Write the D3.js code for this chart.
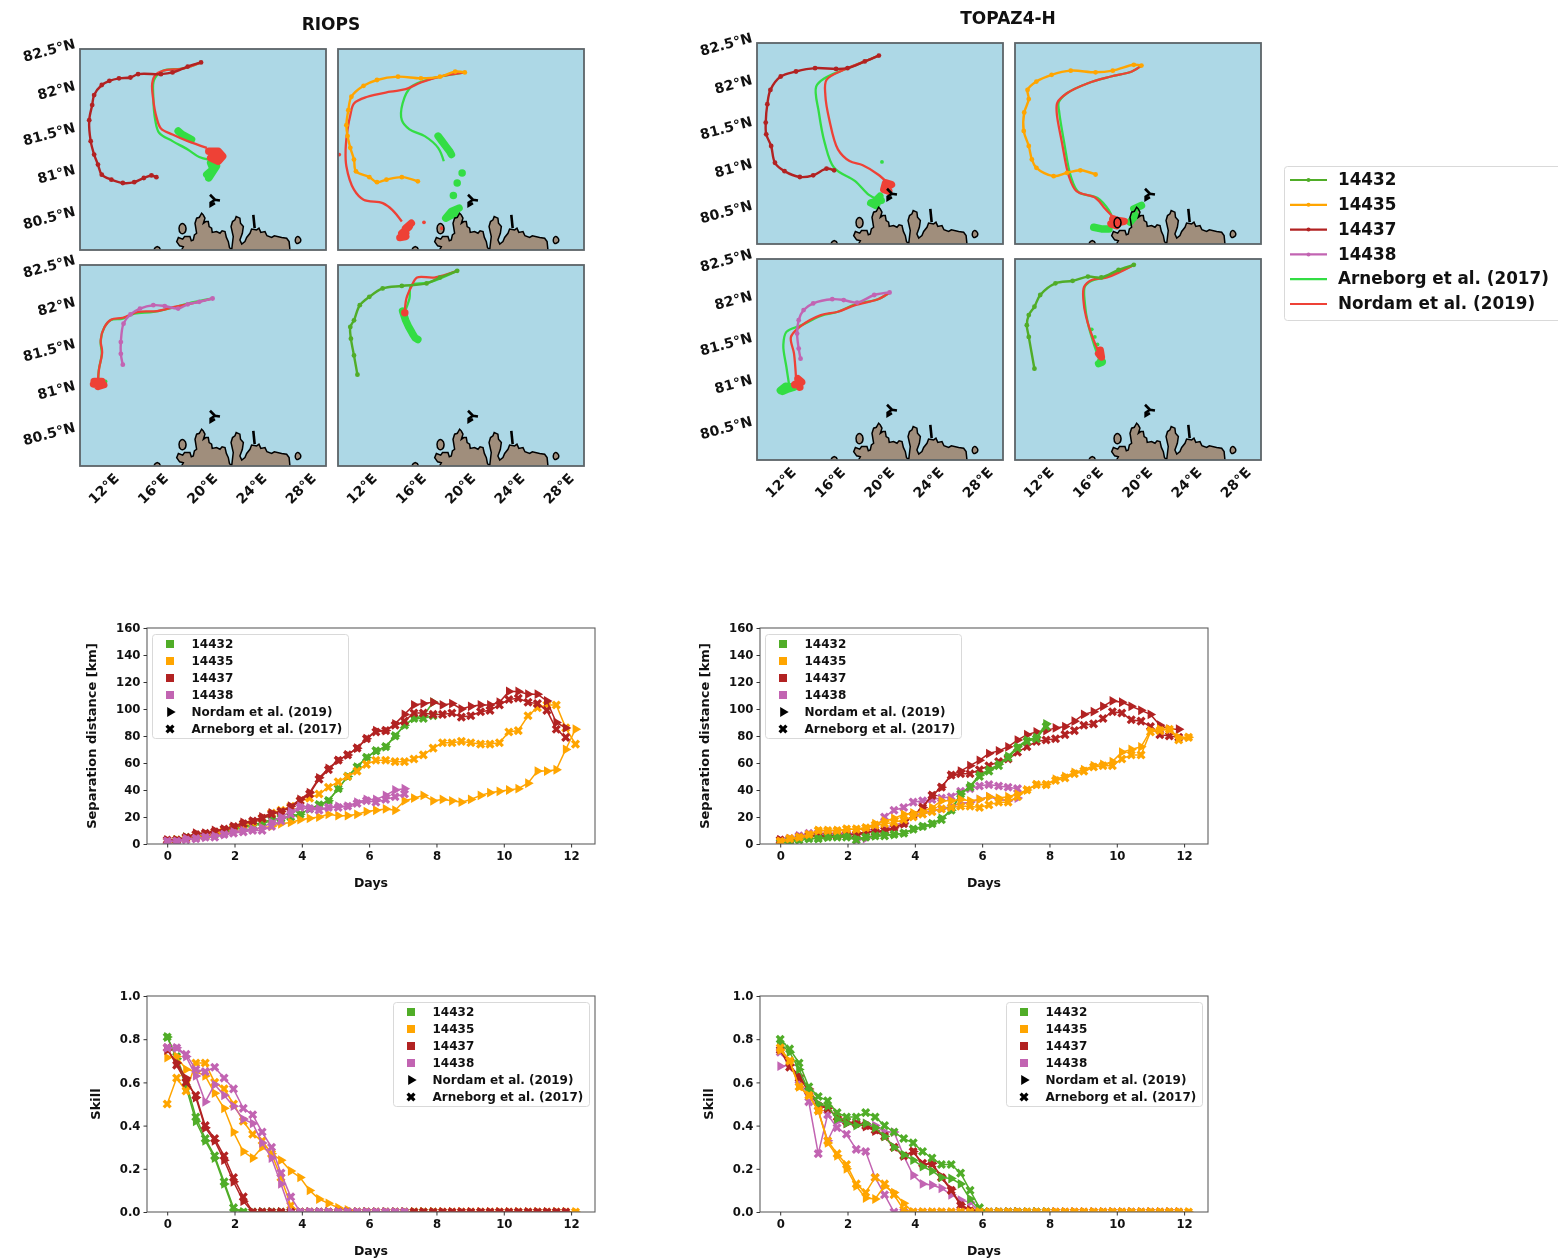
<!doctype html>
<html lang="en">
<head>
<meta charset="utf-8" />
<title>Drifter separation, RIOPS and TOPAZ4-H</title>
<script src="https://cdn.jsdelivr.net/npm/d3@7"></script>
<style>
  html, body { margin: 0; background: #fff; }
  svg { display: block; filter: blur(0.7px); }
  text { font-family: "DejaVu Sans", sans-serif; font-weight: bold; fill: #111; }
</style>
</head>
<body>
<svg id="chart" width="1558" height="1260"></svg>
<script>
const drifters = ["14432", "14435", "14437", "14438"];
const nordamLabel = "Nordam et al. (2019)";
const arneborgLabel = "Arneborg et al. (2017)";
const lonTicks = [12, 16, 20, 24, 28];
const latTicks = [82.5, 82, 81.5, 81, 80.5];

const days = [0,.28,.56,.85,1.13,1.41,1.69,1.97,2.26,2.54,2.82,3.1,3.38,3.67,3.95,4.23,4.51,4.79,5.08,5.36,5.64,5.92,6.2,6.49,6.77,7.05,7.33,7.61,7.9,8.18,8.46,8.74,9.02,9.31,9.59,9.87,10.15,10.43,10.72,11,11.28,11.56,11.84,12.13];

// separation distance [km]
const riopsSep14432N = [2,3,5,6,6,7,9,11,13,14,16,18,19,21,22,26,29,32,41,50,57,64,69,72,80,88,93,95,105];
const riopsSep14432A = [2,3,5,5,6,7,9,11,13,14,16,18,19,20,22,26,29,32,41,50,57,64,69,72,80,88,93,93,95];
const riopsSep14435N = [2,3,4,5,6,7,8,9,10,11,12,13,15,16,18,19,20,22,21,21,22,24,25,26,25,32,34,36,32,33,32,31,33,36,38,39,40,41,45,54,54,55,70,85];
const riopsSep14435A = [2,3,4,5,6,8,10,12,14,16,19,23,25,28,32,34,37,42,46,50,54,59,62,62,61,61,63,66,71,75,75,76,75,74,74,75,83,84,95,101,103,103,86,74];
const riopsSep14437N = [3,3,5,8,8,10,11,13,16,17,20,23,24,28,33,38,49,56,62,66,71,78,84,84,89,96,103,104,105,103,104,100,102,103,103,105,113,113,111,111,106,90,86];
const riopsSep14437A = [3,3,5,7,8,9,11,13,15,17,19,22,24,27,32,37,48,55,62,66,71,78,83,84,88,91,97,97,96,96,97,94,95,98,99,103,107,108,105,104,99,85,79];
const riopsSep14438N = [2,2,4,4,5,6,7,9,10,11,12,16,20,24,28,27,26,27,28,28,31,33,33,36,40,41];
const riopsSep14438A = [2,2,3,4,5,5,7,8,9,10,10,13,17,22,27,26,25,27,27,28,30,32,31,33,35,37];

const topazSep14432N = [1,2,3,4,4,5,6,6,4,5,6,7,7,8,11,13,15,19,25,37,43,51,55,59,65,72,77,79,89];
const topazSep14432A = [1,2,3,4,4,5,5,5,3,5,6,6,7,8,11,13,15,18,25,37,42,50,54,58,64,71,76,78,87];
const topazSep14435N = [2,4,5,7,10,10,10,11,11,12,15,17,19,22,23,24,27,32,32,33,32,33,35,34,35,37,40,44,44,48,50,53,55,58,59,61,68,70,72,84,85,85,79,79];
const topazSep14435A = [2,4,5,7,10,10,10,11,11,12,14,15,16,18,20,22,24,26,27,28,28,27,29,31,31,35,40,44,44,47,49,52,54,57,58,58,63,66,66,83,84,85,77,79];
const topazSep14437N = [3,3,5,6,6,6,6,7,7,9,9,10,12,15,21,27,36,42,51,54,58,62,67,69,72,77,81,83,84,86,87,91,96,98,102,106,105,102,99,96,88,85,85];
const topazSep14437A = [3,3,5,6,6,6,6,7,7,9,9,10,12,15,21,27,36,42,51,52,52,55,58,61,63,68,72,76,77,78,81,84,88,89,93,98,97,92,91,87,81,80,79];
const topazSep14438N = [3,4,6,7,7,7,6,6,3,4,7,11,14,16,21,23,25,26,28,30,31,33,35,33,32,34];
const topazSep14438A = [3,4,6,8,8,8,8,8,7,9,12,20,25,27,31,32,33,34,35,39,41,43,44,43,42,41];

// skill
const riopsSkill14432N = [.81,.71,.58,.42,.33,.25,.13,.01,0,0,0,0,0,0,0,0,0,0,0,0,0,0,0,0,0,0,0,0,0];
const riopsSkill14432A = [.81,.72,.6,.44,.34,.26,.14,.02,0,0,0,0,0,0,0,0,0,0,0,0,0,0,0,0,0,0,0,0,0];
const riopsSkill14435N = [.715,.72,.66,.65,.63,.55,.48,.37,.28,.25,.3,.27,.24,.19,.16,.1,.06,.04,.02,.01,0,0,0,0,0,0,0,0,0,0,0,0,0,0,0,0,0,0,0,0,0,0,0,0];
const riopsSkill14435A = [.5,.62,.56,.69,.69,.6,.57,.5,.42,.36,.33,.27,.16,.03,0,0,0,0,0,0,0,0,0,0,0,0,0,0,0,0,0,0,0,0,0,0,0,0,0,0,0,0,0,0];
const riopsSkill14437N = [.75,.69,.62,.53,.39,.33,.24,.14,.05,0,0,0,0,0,0,0,0,0,0,0,0,0,0,0,0,0,0,0,0,0,0,0,0,0,0,0,0,0,0,0,0,0,0];
const riopsSkill14437A = [.76,.68,.6,.54,.4,.34,.26,.16,.07,0,0,0,0,0,0,0,0,0,0,0,0,0,0,0,0,0,0,0,0,0,0,0,0,0,0,0,0,0,0,0,0,0,0];
const riopsSkill14438N = [.76,.76,.72,.63,.51,.59,.54,.49,.43,.41,.32,.25,.13,0,0,0,0,0,0,0,0,0,0,0,0,0];
const riopsSkill14438A = [.76,.76,.73,.66,.65,.67,.62,.57,.48,.45,.37,.3,.18,.07,0,0,0,0,0,0,0,0,0,0,0,0];

const topazSkill14432N = [.78,.74,.66,.56,.5,.49,.43,.41,.4,.41,.39,.35,.3,.265,.24,.21,.19,.16,.155,.13,.06,.01,0,0,0,0,0,0,0];
const topazSkill14432A = [.8,.755,.69,.58,.535,.515,.46,.44,.44,.46,.44,.4,.37,.34,.32,.28,.25,.22,.22,.18,.1,.02,0,0,0,0,0,0,0];
const topazSkill14435N = [.75,.7,.58,.54,.47,.32,.26,.2,.12,.065,.06,.12,.09,.04,0,0,0,0,0,0,0,0,0,0,0,0,0,0,0,0,0,0,0,0,0,0,0,0,0,0,0,0,0,0];
const topazSkill14435A = [.76,.7,.58,.54,.47,.33,.27,.22,.13,.09,.16,.13,.08,.01,0,0,0,0,0,0,0,0,0,0,0,0,0,0,0,0,0,0,0,0,0,0,0,0,0,0,0,0,0,0];
const topazSkill14437N = [.76,.68,.63,.57,.5,.48,.44,.41,.41,.395,.375,.35,.3,.26,.28,.22,.225,.165,.105,.035,.01,0,0,0,0,0,0,0,0,0,0,0,0,0,0,0,0,0,0,0,0,0,0];
const topazSkill14437A = [.75,.67,.62,.56,.49,.48,.44,.42,.41,.4,.38,.35,.3,.26,.28,.225,.22,.16,.1,.03,.005,0,0,0,0,0,0,0,0,0,0,0,0,0,0,0,0,0,0,0,0,0,0];
const topazSkill14438N = [.675,.68,.6,.55,.47,.33,.42,.41,.41,.41,.4,.37,.37,.26,.17,.13,.125,.11,.08,.055,.045,0,0,0,0,0];
const topazSkill14438A = [.74,.69,.61,.51,.27,.45,.39,.36,.29,.28,.16,.08,0,0,0,0,0,0,0,0,0,0,0,0,0,0];

// map tracks, [lon, lat]. *End = clusters of final positions, *Stray = single particles
const riops14437Drifter = [[19.84,82.34],[18.76,82.29],[17.52,82.22],[16.58,82.2],[14.72,82.2],[14.1,82.16],[13.17,82.15],[12.39,82.12],[11.77,82.07],[11.15,81.95],[10.99,81.83],[10.75,81.65],[10.87,81.4],[11.15,81.24],[11.46,81.12],[11.77,81],[12.55,80.94],[13.48,80.9],[14.41,80.91],[15.19,80.96],[15.81,80.99],[16.21,80.97]];
const riops14437Nordam = [[19.84,82.34],[18.45,82.27],[16.74,82.24],[16.12,82.19],[15.87,82.09],[15.96,81.89],[16.21,81.69],[16.58,81.55],[17.52,81.48],[18.76,81.4],[20.31,81.32]];
const riops14437Arneborg = [[19.84,82.34],[18.45,82.27],[16.74,82.24],[16.02,82.13],[15.96,81.93],[16.12,81.65],[16.43,81.5],[17.52,81.4],[18.76,81.3],[19.69,81.21],[20.47,81.18]];
const riops14437NordamEnd = [[[20.47,81.28],[21.24,81.28],[21.6,81.22],[21.24,81.16],[20.62,81.2],[20.93,81.22]]];
const riops14437ArneborgEnd = [[[20.62,81.14],[20.78,81.08],[20.62,81.02],[20.47,80.96],[21.09,81.1],[20.31,81]],[[17.98,81.52],[18.29,81.48],[19.07,81.42]]];
const riops14437NordamStray = [];
const riops14437ArneborgStray = [];

const riops14435Drifter = [[20.31,82.22],[19.53,82.23],[18.29,82.17],[16.74,82.15],[14.88,82.17],[13.17,82.13],[12.08,82.06],[11.09,81.93],[10.84,81.77],[10.68,81.59],[10.78,81.46],[11,81.32],[11.3,81.18],[11.46,81.04],[12.55,80.97],[13.17,80.91],[13.94,80.94],[15.19,80.97],[16.49,80.92]];
const riops14435Nordam = [[20.31,82.22],[18.29,82.17],[16.74,82.1],[15.5,82.02],[14.25,81.99],[12.39,81.93],[11.3,81.85],[11,81.71],[10.78,81.54],[10.62,81.3],[10.68,81.1],[11.3,80.82],[12.08,80.7],[13.63,80.66],[14.41,80.58],[15.19,80.44]];
const riops14435Arneborg = [[20.31,82.22],[18.29,82.17],[17.67,82.15],[15.96,82.05],[15.25,81.85],[15.19,81.65],[15.81,81.54],[17.05,81.46],[18.14,81.32],[18.6,81.16]];
const riops14435NordamEnd = [[[15.96,80.42],[15.5,80.36],[15.81,80.38],[15.19,80.3],[15.5,80.26],[15.03,80.25],[15.5,80.3]]];
const riops14435ArneborgEnd = [[[18.14,81.46],[18.45,81.4],[18.76,81.34],[19.07,81.28],[19.22,81.24]],[[20.09,81.02]],[[19.69,80.9]],[[19.38,80.75]],[[19.84,80.6],[19.22,80.56],[18.76,80.48],[19.53,80.54]]];
const riops14435NordamStray = [[16.99,80.43],[18.45,80.36],[10.1,81.24]];
const riops14435ArneborgStray = [];

const riops14438Drifter = [[20.78,82.1],[19.69,82.06],[18.76,82.03],[17.98,81.98],[16.89,82.01],[15.96,82.02],[14.88,81.98],[14.1,81.91],[13.54,81.8],[13.32,81.58],[13.32,81.44],[13.48,81.31]];
const riops14438Nordam = [[20.78,82.1],[18.76,82.03],[17.67,82],[16.27,81.95],[14.72,81.94],[13.48,81.87],[12.55,81.85],[11.99,81.76],[11.68,81.6],[11.8,81.46],[11.55,81.26],[11.46,81.13]];
const riops14438Arneborg = [[20.78,82.1],[18.76,82.04],[17.52,81.99],[15.96,81.94],[14.41,81.92],[13.48,81.86],[12.48,81.84],[11.93,81.74],[11.68,81.58],[11.77,81.44],[11.52,81.24],[11.49,81.11]];
const riops14438NordamEnd = [[[11.15,81.11],[11.77,81.11],[11.46,81.05],[11.93,81.07],[11.1,81.08],[11.5,81.1]]];
const riops14438ArneborgEnd = [];
const riops14438NordamStray = [];
const riops14438ArneborgStray = [[12.08,81.11]];

const riops14432Drifter = [[19.69,82.43],[18.29,82.35],[17.2,82.28],[15.19,82.25],[13.63,82.22],[12.55,82.12],[11.77,82.02],[11.3,81.84],[11,81.76],[11.05,81.62],[11.3,81.42],[11.58,81.19]];
const riops14432Nordam = [[19.69,82.43],[17.83,82.35],[16.43,82.35],[15.96,82.24],[15.56,82.1],[15.43,81.93]];
const riops14432Arneborg = [[19.69,82.43],[17.36,82.29],[15.96,82.26],[15.81,82.1],[15.43,81.94]];
const riops14432NordamEnd = [[[15.43,81.93]]];
const riops14432ArneborgEnd = [[[15.25,81.95],[15.5,81.84],[15.75,81.76],[16.06,81.68],[16.27,81.63],[16.49,81.61]]];
const riops14432NordamStray = [];
const riops14432ArneborgStray = [];

const topaz14437Drifter = [[19.91,82.35],[18.76,82.28],[17.36,82.2],[16.43,82.19],[14.72,82.2],[13.17,82.16],[11.93,82.1],[11.09,81.94],[10.84,81.77],[10.71,81.55],[10.75,81.41],[11.15,81.27],[11.46,81.07],[12.24,80.97],[13.48,80.9],[14.57,80.92],[15.65,81],[16.27,80.98]];
const topaz14437Nordam = [[19.91,82.35],[18.76,82.28],[17.05,82.18],[15.65,82.06],[15.56,81.87],[15.87,81.59],[16.58,81.23],[17.52,81.09],[18.6,81.04],[19.84,80.93],[20.62,80.83]];
const topaz14437Arneborg = [[19.91,82.35],[18.76,82.28],[17.05,82.18],[15.5,82.08],[14.81,81.98],[15.03,81.67],[15.5,81.31],[16.27,81.01],[17.98,80.85],[19.07,80.69],[19.84,80.63]];
const topaz14437NordamEnd = [[[20.62,80.79],[20.93,80.81],[20.46,80.83],[20.31,80.75],[20.71,80.73]]];
const topaz14437ArneborgEnd = [[[19.84,80.62],[19.53,80.6],[20,80.67],[19.69,80.56],[19.25,80.59],[20.1,80.62]]];
const topaz14437NordamStray = [];
const topaz14437ArneborgStray = [[20.16,81.08]];

const topaz14435Drifter = [[20.28,82.23],[19.66,82.24],[17.95,82.17],[16.55,82.15],[14.53,82.17],[12.98,82.12],[11.74,82.04],[11.02,81.94],[11.12,81.83],[10.75,81.67],[10.71,81.45],[11.12,81.27],[11.37,81.11],[11.74,81.01],[13.14,80.91],[14.22,80.95],[15.31,80.98],[16.55,80.93]];
const topaz14435Nordam = [[20.28,82.23],[19.5,82.16],[17.8,82.1],[15.93,82.02],[14.22,81.9],[13.45,81.79],[13.39,81.67],[13.82,81.31],[14.38,80.91],[15,80.73],[16.55,80.65],[17.33,80.52],[18.11,80.4]];
const topaz14435Arneborg = [[20.28,82.23],[19.5,82.16],[17.8,82.1],[15.93,82.02],[14.22,81.9],[13.55,81.79],[13.6,81.67],[14,81.31],[14.53,80.91],[15.16,80.72],[16.71,80.65],[17.64,80.5],[17.95,80.4]];
const topaz14435NordamEnd = [[[17.95,80.4],[18.35,80.38],[18.88,80.37],[17.8,80.34],[18.26,80.32]]];
const topaz14435ArneborgEnd = [[[16.4,80.3],[17.02,80.28],[17.64,80.28]],[[19.66,80.52],[20.28,80.56]],[[19.35,80.36],[19.8,80.44]]];
const topaz14435NordamStray = [];
const topaz14435ArneborgStray = [];

const topaz14438Drifter = [[20.78,82.1],[19.53,82.07],[18.14,81.98],[17.05,82.01],[16.12,82.02],[14.57,81.97],[13.79,81.89],[13.39,81.77],[13.26,81.61],[13.39,81.43],[13.54,81.31]];
const topaz14438Nordam = [[20.78,82.1],[19.84,82.02],[17.98,81.95],[16.58,81.87],[15.19,81.83],[13.48,81.69],[12.76,81.57],[13.01,81.37],[13.17,81.09]];
const topaz14438Arneborg = [[20.78,82.1],[19.84,82.02],[17.98,81.96],[16.58,81.87],[15.19,81.82],[13.63,81.71],[12.39,81.63],[12.14,81.47],[12.39,81.21],[12.64,80.97]];
const topaz14438NordamEnd = [[[13.39,81.01],[13.07,81],[13.63,81.03],[13.32,81.07],[13.48,80.97]]];
const topaz14438ArneborgEnd = [[[12.08,80.92],[12.55,80.95],[13.01,80.97],[12.33,80.98],[11.9,80.93]]];
const topaz14438NordamStray = [];
const topaz14438ArneborgStray = [];

const topaz14432Drifter = [[19.66,82.43],[18.42,82.37],[17.02,82.28],[15.93,82.29],[14.69,82.24],[13.29,82.21],[12.05,82.07],[11.58,81.93],[11.12,81.83],[10.96,81.71],[11.12,81.57],[11.58,81.19]];
const topaz14432Nordam = [[19.66,82.43],[17.48,82.28],[16.24,82.25],[15.62,82.17],[15.56,82.01],[15.78,81.81],[16.4,81.53],[16.93,81.35]];
const topaz14432Arneborg = [[19.66,82.43],[17.48,82.29],[16.24,82.24],[15.68,82.17],[15.68,81.97],[15.93,81.73],[16.49,81.45],[16.93,81.27]];
const topaz14432NordamEnd = [[[16.93,81.41],[17.02,81.33],[16.8,81.37]]];
const topaz14432ArneborgEnd = [[[16.93,81.27],[17.1,81.27],[16.8,81.25]]];
const topaz14432NordamStray = [];
const topaz14432ArneborgStray = [[16.24,81.66],[16.49,81.57],[16.71,81.48]];

// coastline, [lon, lat]
const mainLand = [[18.26,80.1],[18.4,80.14],[18.1,80.15],[17.86,80.2],[18,80.25],[18.35,80.23],[18.5,80.26],[18.94,80.26],[19.05,80.21],[19.21,80.22],[19.3,80.28],[19.48,80.3],[19.35,80.42],[19.48,80.48],[19.7,80.49],[19.89,80.54],[20.02,80.52],[20.16,80.48],[20.03,80.42],[20.22,80.44],[20.43,80.44],[20.5,80.38],[20.7,80.36],[20.75,80.31],[21.1,80.32],[21.38,80.3],[21.55,80.33],[21.79,80.32],[21.9,80.25],[22.06,80.2],[22.15,80.13],[22.33,80.1],[22.46,80.26],[22.28,80.38],[22.4,80.44],[22.6,80.46],[22.7,80.5],[23,80.48],[23.05,80.42],[23.28,80.38],[23.2,80.3],[23,80.22],[23.15,80.17],[23.41,80.2],[23.55,80.25],[23.82,80.3],[23.95,80.35],[24.36,80.34],[24.55,80.36],[24.7,80.31],[25.04,80.32],[25.2,80.27],[25.58,80.25],[25.8,80.27],[26.4,80.25],[26.8,80.24],[27,80.2],[27.07,80.1]];
const westIsle = [[18.05,80.36],[18.2,80.41],[18.45,80.41],[18.62,80.36],[18.45,80.3],[18.2,80.3]];
const eastIsle = [[27.5,80.22],[27.65,80.26],[27.85,80.25],[27.95,80.21],[27.75,80.18],[27.6,80.18]];
const southIsle = [[16,80.1],[16.12,80.13],[16.28,80.14],[16.45,80.13],[16.55,80.1]];
const northIslet = [[20.57,80.76],[20.97,80.7],[21.38,80.69],[20.97,80.7],[20.62,80.665],[20.62,80.63],[20.97,80.66]];
const narrowIslet = [[24.09,80.52],[24.2,80.36]];

const colors = {"14432": "#50ad28", "14435": "#ffa500", "14437": "#b22222", "14438": "#c264b2"};
const arneborgColor = "#33dd44", nordamColor = "#ee4136";

const svg = d3.select("#chart");

// map panels ------------------------------------------------------------
const mapW = 246, mapH = 201;
const lon = d3.scaleLinear().domain([10, 30]).range([0, mapW]);
const lat = d3.scaleLinear().domain([82.5, 80.1]).range([0, mapH]);
const mapLine = d3.line().x(d => lon(d[0])).y(d => lat(d[1]));
const trackLine = d3.line().x(d => lon(d[0])).y(d => lat(d[1])).curve(d3.curveCatmullRom);
const isleLine = d3.line().x(d => lon(d[0])).y(d => lat(d[1])).curve(d3.curveCatmullRomClosed);

let clipCount = 0;

function drawEnds(parent, clusters, strays, color) {
  parent.append("g").selectAll("path").data(clusters).join("path")
      .attr("d", d => mapLine(d.length === 1 ? [d[0], d[0]] : d))
      .attr("fill", "none").attr("stroke", color).attr("stroke-width", 7.5)
      .attr("stroke-linecap", "round").attr("stroke-linejoin", "round");
  parent.append("g").selectAll("circle").data(strays).join("circle")
      .attr("cx", d => lon(d[0])).attr("cy", d => lat(d[1])).attr("r", 1.9).attr("fill", color);
}

function drawMap(x0, y0, id, drifter, arneborg, nordam, arneborgEnd, nordamEnd, arneborgStray, nordamStray) {
  const g = svg.append("g").attr("transform", `translate(${x0},${y0})`);
  const clipId = "clip" + (++clipCount);
  g.append("clipPath").attr("id", clipId).append("rect").attr("width", mapW).attr("height", mapH);
  g.append("rect").attr("width", mapW).attr("height", mapH).attr("fill", "#add8e6");
  const inner = g.append("g").attr("clip-path", `url(#${clipId})`);

  // land fill below the tracks
  inner.append("path").attr("d", mapLine(mainLand) + "Z").attr("fill", "#a08e7c");
  inner.append("path").attr("d", mapLine(southIsle) + "Z").attr("fill", "#a08e7c");
  inner.selectAll("path.isle").data([westIsle, eastIsle]).join("path")
      .attr("class", "isle").attr("d", isleLine).attr("fill", "#a08e7c");

  inner.append("path").attr("d", trackLine(arneborg)).attr("fill", "none").attr("stroke", arneborgColor).attr("stroke-width", 2.3);
  drawEnds(inner, arneborgEnd, arneborgStray, arneborgColor);
  inner.append("path").attr("d", trackLine(nordam)).attr("fill", "none").attr("stroke", nordamColor).attr("stroke-width", 2.3);
  drawEnds(inner, nordamEnd, nordamStray, nordamColor);
  inner.append("path").attr("d", trackLine(drifter)).attr("fill", "none").attr("stroke", colors[id]).attr("stroke-width", 2.4);
  inner.selectAll("circle.track").data(drifter).join("circle").attr("class", "track")
      .attr("cx", d => lon(d[0])).attr("cy", d => lat(d[1])).attr("r", 2.4).attr("fill", colors[id]);

  // coast outline goes over the tracks
  const outline = inner.append("g").attr("fill", "none").attr("stroke", "#000").attr("stroke-width", 1.5);
  outline.append("path").attr("d", mapLine(mainLand));
  outline.append("path").attr("d", mapLine(southIsle));
  outline.selectAll("path.isle").data([westIsle, eastIsle]).join("path").attr("class", "isle").attr("d", isleLine);
  inner.selectAll("path.islet").data([northIslet, narrowIslet]).join("path")
      .attr("class", "islet").attr("d", mapLine).attr("fill", "none").attr("stroke", "#000").attr("stroke-width", 2.6);

  g.append("rect").attr("width", mapW).attr("height", mapH).attr("fill", "none").attr("stroke", "#5c6468").attr("stroke-width", 1.8);
}

function latLabels(x0, y0) {
  svg.append("g").selectAll("text").data(latTicks).join("text")
      .attr("transform", d => `translate(${x0 - 4},${y0 + lat(d) - 1}) rotate(-15)`)
      .attr("text-anchor", "end").attr("font-size", 14).attr("fill", "#111")
      .text(d => d + "°N");
}

function lonLabels(x0, y0) {
  svg.append("g").selectAll("text").data(lonTicks).join("text")
      .attr("transform", d => `translate(${x0 + lon(d) + 2.5},${y0 + mapH + 26}) rotate(-45)`)
      .attr("text-anchor", "middle").attr("font-size", 14)
      .text(d => d + "°E");
}

const mapColumns = [
  {title: "RIOPS", titleX: 331, titleY: 30, x0: 80, x1: 338, y0: 49, y1: 265},
  {title: "TOPAZ4-H", titleX: 1008, titleY: 24, x0: 757, x1: 1015, y0: 43, y1: 259}
];

drawMap(80, 49, "14437", riops14437Drifter, riops14437Arneborg, riops14437Nordam, riops14437ArneborgEnd, riops14437NordamEnd, riops14437ArneborgStray, riops14437NordamStray);
drawMap(338, 49, "14435", riops14435Drifter, riops14435Arneborg, riops14435Nordam, riops14435ArneborgEnd, riops14435NordamEnd, riops14435ArneborgStray, riops14435NordamStray);
drawMap(80, 265, "14438", riops14438Drifter, riops14438Arneborg, riops14438Nordam, riops14438ArneborgEnd, riops14438NordamEnd, riops14438ArneborgStray, riops14438NordamStray);
drawMap(338, 265, "14432", riops14432Drifter, riops14432Arneborg, riops14432Nordam, riops14432ArneborgEnd, riops14432NordamEnd, riops14432ArneborgStray, riops14432NordamStray);
drawMap(757, 43, "14437", topaz14437Drifter, topaz14437Arneborg, topaz14437Nordam, topaz14437ArneborgEnd, topaz14437NordamEnd, topaz14437ArneborgStray, topaz14437NordamStray);
drawMap(1015, 43, "14435", topaz14435Drifter, topaz14435Arneborg, topaz14435Nordam, topaz14435ArneborgEnd, topaz14435NordamEnd, topaz14435ArneborgStray, topaz14435NordamStray);
drawMap(757, 259, "14438", topaz14438Drifter, topaz14438Arneborg, topaz14438Nordam, topaz14438ArneborgEnd, topaz14438NordamEnd, topaz14438ArneborgStray, topaz14438NordamStray);
drawMap(1015, 259, "14432", topaz14432Drifter, topaz14432Arneborg, topaz14432Nordam, topaz14432ArneborgEnd, topaz14432NordamEnd, topaz14432ArneborgStray, topaz14432NordamStray);

mapColumns.forEach(c => {
  svg.append("text").attr("x", c.titleX).attr("y", c.titleY).attr("text-anchor", "middle").attr("font-size", 17).text(c.title);
  latLabels(c.x0, c.y0);
  latLabels(c.x0, c.y1);
  lonLabels(c.x0, c.y1);
  lonLabels(c.x1, c.y1);
});

// map legend
const mapLegend = svg.append("g").attr("transform", "translate(1284,166)");
mapLegend.append("rect").attr("x", .5).attr("y", .5).attr("width", 290).attr("height", 154).attr("rx", 3)
    .attr("fill", "#fff").attr("stroke", "#d9d9d9");
const mapLegendRows = [
  ...drifters.map(d => ({label: d, color: colors[d], marker: true})),
  {label: arneborgLabel, color: arneborgColor, marker: false},
  {label: nordamLabel, color: nordamColor, marker: false}
];
mapLegendRows.forEach((r, i) => {
  const y = 14 + i * 24.8;
  mapLegend.append("line").attr("x1", 6).attr("x2", 43).attr("y1", y).attr("y2", y).attr("stroke", r.color).attr("stroke-width", 2.2);
  if (r.marker) mapLegend.append("circle").attr("cx", 24.5).attr("cy", y).attr("r", 2).attr("fill", r.color);
  mapLegend.append("text").attr("x", 54).attr("y", y + 5.2).attr("font-size", 16.8).text(r.label);
});

// time series panels ----------------------------------------------------
const plotW = 448, plotH = 216;
const x = d3.scaleLinear().domain([-0.6, 12.71]).range([0, plotW]);
const triangle = d3.symbol().type(d3.symbolTriangle).size(42);
const xMarker = d3.symbol().type(d3.symbolCross).size(52);

function drawSeries(g, y, values, color, kind) {
  const pts = values.map((v, i) => [days[i], v]);
  g.append("path")
      .attr("d", d3.line().x(d => x(d[0])).y(d => y(d[1]))(pts))
      .attr("fill", "none").attr("stroke", color).attr("stroke-width", 1.5);
  g.selectAll(null).data(pts).join("path")
      .attr("d", kind === "N" ? triangle : xMarker)
      .attr("fill", color)
      .attr("transform", d => `translate(${x(d[0])},${y(d[1])}) rotate(${kind === "N" ? 90 : 45})`);
}

function drawPlot(x0, y0, yDomain, yTicks, yFormat, yLabel, yLabelX, series, legendX, legendY) {
  const g = svg.append("g").attr("transform", `translate(${x0},${y0})`);
  const y = d3.scaleLinear().domain(yDomain).range([plotH, 0]);

  const clipId = "clip" + (++clipCount);
  g.append("clipPath").attr("id", clipId).append("rect").attr("width", plotW).attr("height", plotH);
  const inner = g.append("g").attr("clip-path", `url(#${clipId})`);
  series.forEach(s => {
    drawSeries(inner, y, s.a, colors[s.id], "A");
    drawSeries(inner, y, s.n, colors[s.id], "N");
  });

  g.append("rect").attr("width", plotW).attr("height", plotH).attr("fill", "none").attr("stroke", "#5f5f5f").attr("stroke-width", 1.1);

  const xAxis = g.append("g").attr("transform", `translate(0,${plotH})`)
      .call(d3.axisBottom(x).tickValues([0, 2, 4, 6, 8, 10, 12]).tickSize(3.5).tickPadding(4));
  const yAxis = g.append("g")
      .call(d3.axisLeft(y).tickValues(yTicks).tickFormat(yFormat).tickSize(3.5).tickPadding(3));
  [xAxis, yAxis].forEach(a => {
    a.select(".domain").remove();
    a.selectAll("text").attr("font-size", 11.7).style("font-family", '"DejaVu Sans", sans-serif').attr("fill", "#111");
    a.selectAll("line").attr("stroke", "#333");
  });

  g.append("text").attr("x", plotW / 2).attr("y", plotH + 43).attr("text-anchor", "middle").attr("font-size", 12.5).text("Days");
  g.append("text").attr("transform", `translate(${yLabelX},${plotH / 2}) rotate(-90)`)
      .attr("text-anchor", "middle").attr("font-size", 13).text(yLabel);

  const legend = g.append("g").attr("transform", `translate(${legendX},${legendY})`);
  legend.append("rect").attr("x", .5).attr("y", .5).attr("width", 196).attr("height", 104).attr("rx", 3)
      .attr("fill", "#fff").attr("fill-opacity", .85).attr("stroke", "#d9d9d9");
  drifters.forEach((d, i) => {
    const ly = 10 + i * 17;
    legend.append("rect").attr("x", 14).attr("y", ly - 4).attr("width", 8).attr("height", 8).attr("fill", colors[d]);
    legend.append("text").attr("x", 39.5).attr("y", ly + 3.8).attr("font-size", 12).text(d);
  });
  [[nordamLabel, triangle, 90], [arneborgLabel, xMarker, 45]].forEach((r, i) => {
    const ly = 78 + i * 17;
    legend.append("path").attr("d", r[1]).attr("fill", "#000").attr("transform", `translate(18,${ly}) rotate(${r[2]})`);
    legend.append("text").attr("x", 39.5).attr("y", ly + 3.8).attr("font-size", 12).text(r[0]);
  });
}

const sepTicks = [0, 20, 40, 60, 80, 100, 120, 140, 160];
const skillTicks = [0, .2, .4, .6, .8, 1];
const skillFormat = d3.format(".1f");

drawPlot(147, 628, [0, 160], sepTicks, d3.format("d"), "Separation distance [km]", -51, [
  {id: "14432", n: riopsSep14432N, a: riopsSep14432A},
  {id: "14435", n: riopsSep14435N, a: riopsSep14435A},
  {id: "14437", n: riopsSep14437N, a: riopsSep14437A},
  {id: "14438", n: riopsSep14438N, a: riopsSep14438A}
], 5, 6);
drawPlot(760, 628, [0, 160], sepTicks, d3.format("d"), "Separation distance [km]", -51, [
  {id: "14438", n: topazSep14438N, a: topazSep14438A},
  {id: "14437", n: topazSep14437N, a: topazSep14437A},
  {id: "14432", n: topazSep14432N, a: topazSep14432A},
  {id: "14435", n: topazSep14435N, a: topazSep14435A}
], 5, 6);
drawPlot(147, 996, [0, 1], skillTicks, skillFormat, "Skill", -47, [
  {id: "14432", n: riopsSkill14432N, a: riopsSkill14432A},
  {id: "14435", n: riopsSkill14435N, a: riopsSkill14435A},
  {id: "14437", n: riopsSkill14437N, a: riopsSkill14437A},
  {id: "14438", n: riopsSkill14438N, a: riopsSkill14438A}
], 246, 6);
drawPlot(760, 996, [0, 1], skillTicks, skillFormat, "Skill", -47, [
  {id: "14438", n: topazSkill14438N, a: topazSkill14438A},
  {id: "14437", n: topazSkill14437N, a: topazSkill14437A},
  {id: "14432", n: topazSkill14432N, a: topazSkill14432A},
  {id: "14435", n: topazSkill14435N, a: topazSkill14435A}
], 246, 6);
</script>
</body>
</html>
